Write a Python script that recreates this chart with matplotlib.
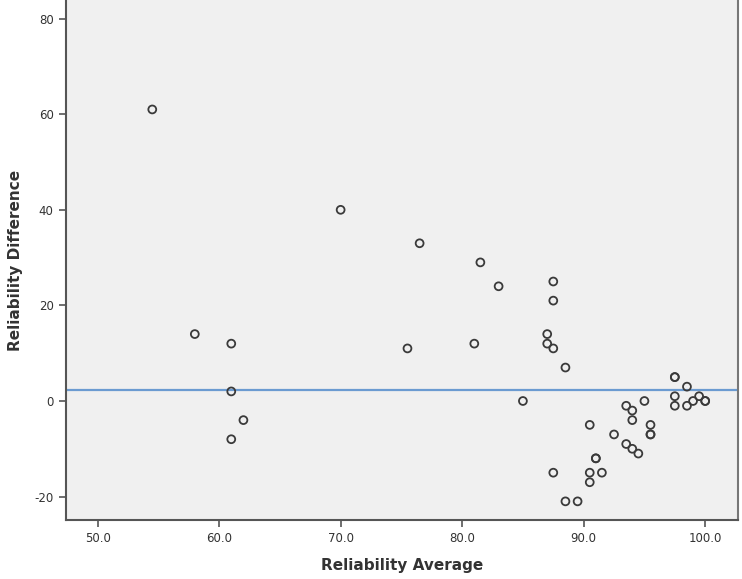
import matplotlib
matplotlib.use("Agg")
import matplotlib.pyplot as plt

# Data (Bland-Altman style scatter)
reliability_average = [
    54.5, 58.0, 61.0, 61.0, 61.0, 62.0, 70.0, 75.5, 76.5, 81.0, 81.5, 83.0,
    85.0, 87.0, 87.0, 87.5, 87.5, 87.5, 87.5, 88.5, 88.5, 89.5,
    90.5, 90.5, 90.5, 91.0, 91.0, 91.5, 92.5, 93.5, 93.5, 94.0, 94.0, 94.0,
    94.5, 95.0, 95.5, 95.5, 95.5, 97.5, 97.5, 97.5, 97.5, 98.5, 98.5,
    99.0, 99.5, 100.0, 100.0,
]
reliability_difference = [
    61, 14, 12, 2, -8, -4, 40, 11, 33, 12, 29, 24,
    0, 14, 12, 25, 21, 11, -15, 7, -21, -21,
    -5, -15, -17, -12, -12, -15, -7, -1, -9, -2, -4, -10,
    -11, 0, -5, -7, -7, 5, 5, 1, -1, 3, -1,
    0, 1, 0, 0,
]
mean_difference = 2.2

x_ticks = [50, 60, 70, 80, 90, 100]
y_ticks = [-20, 0, 20, 40, 60, 80]

fig = plt.figure(figsize=(7.42, 5.79), dpi=100)
ax = fig.add_axes([66 / 742, 59 / 579, (738 - 66) / 742, 520 / 579])
ax.set_facecolor("#F0F0F0")

ax.scatter(reliability_average, reliability_difference, s=32,
           facecolors="none", edgecolors="#3a3a3a", linewidths=1.3, zorder=3)
ax.axhline(mean_difference, color="#6B9BD1", linewidth=1.6, zorder=2)

ax.set_xlim(47.4, 102.7)
ax.set_ylim(-24.9, 83.9)
ax.set_xticks(x_ticks)
ax.set_xticklabels([f"{v:.1f}" for v in x_ticks])
ax.set_yticks(y_ticks)
ax.set_yticklabels([str(v) for v in y_ticks])

for s in ax.spines.values():
    s.set_color("#555555")
    s.set_linewidth(1.5)
ax.spines["top"].set_visible(False)
ax.spines["right"].set_color("#777777")
ax.tick_params(axis="both", direction="out", length=5, width=1.2,
               color="#555555", labelcolor="#333333", labelsize=8.5, pad=4)

ax.set_xlabel("Reliability Average", fontsize=11, fontweight="bold",
              color="#333333", labelpad=9)
ax.set_ylabel("Reliability Difference", fontsize=11, fontweight="bold",
              color="#333333", labelpad=8)

fig.savefig("out.png", dpi=100)
